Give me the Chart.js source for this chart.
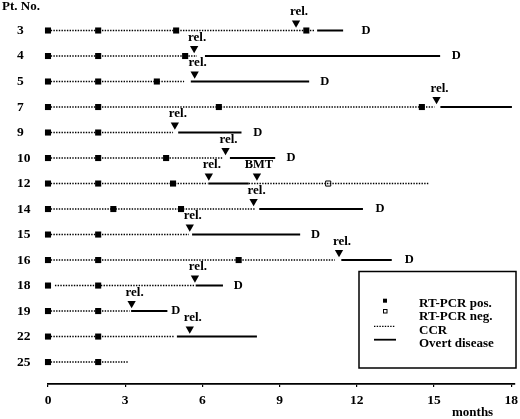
<!doctype html>
<html lang="en">
  <head>
    <meta charset="utf-8">
    <title>RT-PCR follow-up per patient</title>
    <script src="https://cdn.jsdelivr.net/npm/chart.js"></script>
    <style>
      body { margin: 0; background: #fff; }
    </style>
  </head>
  <body>
    <canvas id="chart" width="520" height="419"></canvas>

    <script>
    // values, in months
    const patients = ['3', '4', '5', '7', '9', '10', '12', '14', '15', '16', '18', '19', '22', '25'];

    // dotted line (CCR), one or more periods per patient
    const ccrPeriods = [
        [[0, 10.35]],
        [[0, 5.79]],
        [[0, 5.29]],
        [[0, 15.02]],
        [[0, 4.86]],
        [[0, 6.8]],
        [[0, 6.2], [7.8, 14.78]],
        [[0, 8.03]],
        [[0, 5.48]],
        [[0, 11.15]],
        [[0.27, 5.7]],
        [[0, 3.17]],
        [[0, 4.9]],
        [[0, 3.1]]
    ];

    // solid line (overt disease)
    const overtPeriods = [
        [[10.46, 11.47]],
        [[6.1, 15.24]],
        [[5.55, 10.15]],
        [[15.25, 18.03]],
        [[5.06, 7.52]],
        [[7.07, 8.83]],
        [[6.23, 7.8]],
        [[8.21, 12.24]],
        [[5.6, 9.8]],
        [[11.4, 13.36]],
        [[5.74, 6.8]],
        [[3.23, 4.64]],
        [[5.01, 8.12]],
        []
    ];

    const pcrPositive = [
        [0, 1.95, 4.98, 10.04],
        [0, 1.95, 5.33],
        [0, 1.95, 4.23],
        [0, 1.95, 6.64, 14.53],
        [0, 1.95],
        [0, 1.95, 4.59],
        [0, 1.95, 4.86],
        [0, 2.54, 5.17],
        [0, 1.95],
        [0, 1.95, 7.41],
        [0, 1.95],
        [0, 1.95],
        [0, 1.95],
        [0, 1.95]
    ];
    const pcrNegative = [null, null, null, null, null, null, 10.89, null, null, null, null, null, null, null];

    const relapse = [9.64, 5.68, 5.70, 15.1, 4.93, 6.9, 6.25, 7.99, 5.51, 11.31, 5.71, 3.25, 5.51, null];
    const bmt     = [null, null, null, null, null, null, 8.12, null, null, null, null, null, null, null];
    const death   = [12.36, 15.87, 10.76, null, 8.15, 9.44, null, 12.9, 10.4, 14.04, 7.39, 4.97, null, null];

    const xTicks = [0, 3, 6, 9, 12, 15, 18];
    const legendLabels = ['RT-PCR pos.', 'RT-PCR neg.', 'CCR', 'Overt disease'];

    const serif = 'Liberation Serif';
    const markLift = 0.3; // triangles sit just above the row

    // turn periods into line data, with a null point between segments
    function segments(periods) {
        let out = [];
        periods.forEach(function(list, row) {
            list.forEach(function(p) {
                out.push({x: p[0], y: row}, {x: p[1], y: row}, {x: p[1], y: null});
            });
        });
        return out;
    }

    let posPoints = [];
    pcrPositive.forEach(function(list, row) {
        list.forEach(function(m) { posPoints.push({x: m, y: row}); });
    });
    let negPoints = [];
    pcrNegative.forEach(function(m, row) { if (m !== null) negPoints.push({x: m, y: row}); });
    let relPoints = [];
    relapse.forEach(function(m, row) { if (m !== null) relPoints.push({x: m, y: row - markLift}); });
    bmt.forEach(function(m, row) { if (m !== null) relPoints.push({x: m, y: row - markLift}); });

    // rel. / BMT / D texts, Pt. No., months and the legend box
    const notes = {
        id: 'notes',
        afterDatasetsDraw(chart) {
            const ctx = chart.ctx;
            const xs = chart.scales.x, ys = chart.scales.y;
            ctx.save();
            ctx.fillStyle = '#000';
            ctx.textAlign = 'center';
            ctx.textBaseline = 'middle';
            ctx.font = 'bold 13px "' + serif + '"';
            relapse.forEach(function(m, row) {
                if (m === null) return;
                ctx.fillText('rel.', xs.getPixelForValue(m) + 3, ys.getPixelForValue(row) - 18.5);
            });
            ctx.font = 'bold 12.5px "' + serif + '"';
            bmt.forEach(function(m, row) {
                if (m === null) return;
                ctx.fillText('BMT', xs.getPixelForValue(m) + 2, ys.getPixelForValue(row) - 19);
            });
            death.forEach(function(m, row) {
                if (m === null) return;
                ctx.fillText('D', xs.getPixelForValue(m), ys.getPixelForValue(row));
            });

            ctx.textAlign = 'left';
            ctx.font = 'bold 13px "' + serif + '"';
            ctx.fillText('Pt. No.', 2, 7);
            ctx.fillText('months', 452, 413);

            // legend
            ctx.strokeStyle = '#000';
            ctx.lineWidth = 1.5;
            ctx.strokeRect(359, 271.5, 157, 96.5);
            ctx.fillRect(383, 298.7, 4, 4);
            ctx.lineWidth = 1;
            ctx.strokeRect(383.5, 309.5, 3.5, 3.5);
            ctx.setLineDash([1.4, 1.3]);
            ctx.lineWidth = 1.3;
            ctx.beginPath(); ctx.moveTo(374, 326.3); ctx.lineTo(395, 326.3); ctx.stroke();
            ctx.setLineDash([]);
            ctx.lineWidth = 1.8;
            ctx.beginPath(); ctx.moveTo(374, 339.7); ctx.lineTo(396, 339.7); ctx.stroke();
            ctx.font = 'bold 13px "' + serif + '"';
            [304, 317, 330.5, 344].forEach(function(y, i) {
                ctx.fillText(legendLabels[i], 419, y);
            });
            ctx.restore();
        }
    };

    new Chart(document.getElementById('chart'), {
        data: {
            datasets: [{
                type: 'line',
                label: 'CCR',
                data: segments(ccrPeriods),
                borderColor: '#000',
                borderWidth: 1.4,
                borderDash: [1.4, 1.3],
                pointRadius: 0,
                spanGaps: false,
                clip: false
            }, {
                type: 'line',
                label: 'Overt disease',
                data: segments(overtPeriods),
                borderColor: '#000',
                borderWidth: 1.9,
                pointRadius: 0,
                spanGaps: false,
                clip: false
            }, {
                type: 'scatter',
                label: 'RT-PCR pos.',
                data: posPoints,
                pointStyle: 'rect',
                pointRadius: 4.3,
                pointBackgroundColor: '#000',
                pointBorderWidth: 0,
                clip: false
            }, {
                type: 'scatter',
                label: 'RT-PCR neg.',
                data: negPoints,
                pointStyle: 'rect',
                pointRadius: 3.6,
                pointBackgroundColor: '#fff',
                pointBorderColor: '#000',
                pointBorderWidth: 1,
                clip: false
            }, {
                type: 'scatter',
                label: 'rel.',
                data: relPoints,
                pointStyle: 'triangle',
                pointRotation: 180,
                pointRadius: 4.8,
                pointBackgroundColor: '#000',
                pointBorderWidth: 0,
                clip: false
            }]
        },
        options: {
            responsive: false,
            animation: false,
            layout: { padding: { left: 17, right: 2, top: 4.5, bottom: 0 } },
            plugins: {
                legend: { display: false },
                tooltip: { enabled: false }
            },
            scales: {
                x: {
                    type: 'linear',
                    min: 0,
                    max: 18.15,
                    afterBuildTicks: function(s) { s.ticks = xTicks.map(v => ({value: v})); },
                    afterFit: function(s) {
                        s.height = 35;
                        s.paddingLeft = 0; s.paddingRight = 0;
                    },
                    grid: { drawOnChartArea: false, drawTicks: true, tickLength: 3, color: '#000', lineWidth: 1.2 },
                    border: { display: true, color: '#000', width: 1.8 },
                    ticks: {
                        color: '#000',
                        padding: 5,
                        maxRotation: 0,
                        autoSkip: false,
                        font: { family: serif, size: 13.5, weight: 'bold' }
                    }
                },
                y: {
                    type: 'linear',
                    reverse: true,
                    min: -1,
                    max: 13.86,
                    afterBuildTicks: function(s) { s.ticks = patients.map((p, i) => ({value: i})); },
                    afterFit: function(s) {
                        s.width = 31;
                        s.paddingTop = 0; s.paddingBottom = 0;
                    },
                    grid: { display: false },
                    border: { display: false },
                    ticks: {
                        color: '#000',
                        crossAlign: 'far',
                        autoSkip: false,
                        font: { family: serif, size: 13.5, weight: 'bold' },
                        callback: function(v) { return patients[v]; }
                    }
                }
            }
        },
        plugins: [notes]
    });
    </script>
  </body>
</html>
